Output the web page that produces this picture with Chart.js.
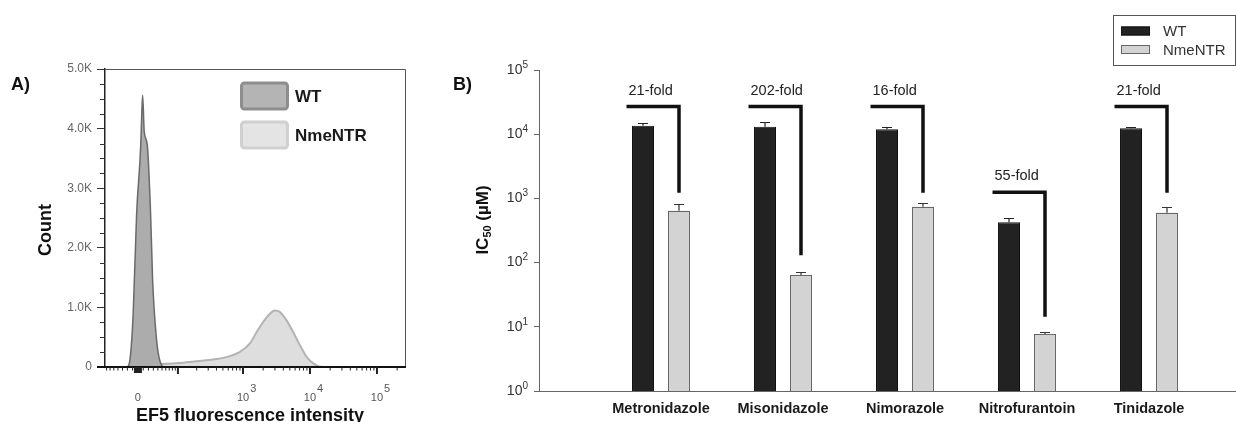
<!DOCTYPE html>
<html>
<head>
<meta charset="utf-8">
<script src="https://cdn.jsdelivr.net/npm/chart.js@4.4.0/dist/chart.umd.min.js"></script>
<style>
  html, body { margin: 0; padding: 0; background: #fff; }
  #wrap { position: relative; width: 1236px; height: 422px; overflow: hidden; }
  #histo { position: absolute; left: 0; top: 0; }
  #ic50 { position: absolute; left: 420px; top: 0; }
</style>
</head>
<body>
<div id="wrap">
  <canvas id="histo" width="420" height="422" style="width:420px;height:422px"></canvas>
  <canvas id="ic50" width="816" height="422" style="width:816px;height:422px"></canvas>
</div>
<script>
// ---- Panel A: EF5 histogram (fluorescence intensity vs count) ----
const wtIntensity = [-31, -21, -15, -8.8, -2.4, 5.0, 7.4, 8.8, 11.8, 17.6, 24.3, 28.5, 37.1, 44.8, 57.7, 70];
const wtCount     = [0, 0, 120, 900, 2570, 3670, 4300, 4560, 3950, 3730, 2570, 1450, 450, 100, 0, 0];
const ntrIntensity = [-5, 4, 23, 49, 122, 224, 402, 636, 899, 1270, 1600, 2000, 2520, 3000, 3550, 4470, 5600, 7070, 8900, 11200, 15700, 30000];
const ntrCount     = [0, 30, 45, 50, 72, 100, 133, 183, 255, 395, 588, 755, 895, 950, 922, 783, 588, 367, 172, 62, 0, 0];
const histoTickLabels = [0, 1e3, 1e4, 1e5];

// ---- Panel B: IC50 per drug (µM) ----
const drugs   = ['Metronidazole', 'Misonidazole', 'Nimorazole', 'Nitrofurantoin', 'Tinidazole'];
const wtIC50  = [13600, 13100, 11900, 424, 12400];
const wtErr   = [1200, 2600, 1200, 77, 500];
const ntrIC50 = [643, 64, 743, 7.7, 599];
const ntrErr  = [167, 8, 96, 0.5, 144];
const foldText    = ['21-fold', '202-fold', '16-fold', '55-fold', '21-fold'];
const bracketTop  = [27000, 27000, 27000, 1250, 27000];
const bracketEnd  = [1230, 130, 1230, 14.4, 1230];
const decadeTicks = [1, 10, 100, 1000, 10000, 100000];

const FONT = '"Liberation Sans", Arial, Helvetica, sans-serif';
Chart.defaults.font.family = FONT;

// biexponential-like display axis (asinh) for the flow histogram
const BIEX_W = 54;
class BiexScale extends Chart.LinearScale {
  static id = 'biex';
  static defaults = Chart.LinearScale.defaults;
  _t(v) { return Math.asinh(v / BIEX_W); }
  determineDataLimits() { this.min = this.options.min; this.max = this.options.max; }
  buildTicks() { return histoTickLabels.map(v => ({ value: v })); }
  configure() {
    super.configure();
    this._tMin = this._t(this.min);
    this._tMax = this._t(this.max);
  }
  getPixelForValue(v) {
    return this.getPixelForDecimal((this._t(v) - this._tMin) / (this._tMax - this._tMin));
  }
  getValueForPixel(p) {
    const d = this.getDecimalForPixel(p);
    return BIEX_W * Math.sinh(this._tMin + d * (this._tMax - this._tMin));
  }
}
Chart.register(BiexScale);

function drawPow(ctx, exp, x, y, size, supSize, supRise, align) {
  ctx.font = `${size}px ${FONT}`;
  const wb = ctx.measureText('10').width;
  ctx.font = `${supSize}px ${FONT}`;
  const we = ctx.measureText(String(exp)).width;
  let x0;
  if (align === 'center') x0 = x - wb / 2;
  else x0 = x - wb - we;
  ctx.textAlign = 'left';
  ctx.textBaseline = 'middle';
  ctx.font = `${size}px ${FONT}`;
  ctx.fillText('10', x0, y);
  ctx.font = `${supSize}px ${FONT}`;
  ctx.fillText(String(exp), x0 + wb + (align === 'center' ? 1 : 0), y - supRise);
}

const histoLegend = [
  { fill: '#b4b4b4', stroke: '#8e8e8e' },
  { fill: '#e4e4e4', stroke: '#d0d0d0' }
];

const histoDecor = {
  id: 'histoDecor',
  afterDraw(chart) {
    const { ctx, chartArea: a, scales: { x, y } } = chart;
    ctx.save();
    // thin frame on top and right
    ctx.strokeStyle = '#555';
    ctx.lineWidth = 1;
    ctx.beginPath();
    ctx.moveTo(a.left, a.top + 0.5);
    ctx.lineTo(a.right + 0.5, a.top + 0.5);
    ctx.lineTo(a.right + 0.5, a.bottom);
    ctx.stroke();
    // bottom spine
    ctx.strokeStyle = '#111';
    ctx.lineWidth = 2;
    ctx.beginPath();
    ctx.moveTo(a.left - 8, a.bottom);
    ctx.lineTo(a.right + 1, a.bottom);
    ctx.stroke();
    // minor y ticks
    ctx.strokeStyle = '#333';
    ctx.lineWidth = 1;
    for (let v = 250; v < 5000; v += 250) {
      if (v % 1000 === 0) continue;
      const py = Math.round(y.getPixelForValue(v)) + 0.5;
      ctx.beginPath(); ctx.moveTo(a.left - 5, py); ctx.lineTo(a.left, py); ctx.stroke();
    }
    // x ticks (linear near zero, log above)
    const tick = (v, len, w) => {
      const px = x.getPixelForValue(v);
      if (px < a.left || px > a.right) return;
      ctx.lineWidth = w;
      ctx.beginPath(); ctx.moveTo(px, a.bottom); ctx.lineTo(px, a.bottom + len); ctx.stroke();
    };
    ctx.strokeStyle = '#222';
    for (let k = -6; k <= 6; k++) tick(k, 6, 1.5);
    for (let k = 1; k <= 9; k++) { tick(k * 10, 3.5, 1); tick(-k * 10, 3.5, 1); }
    for (let e = 2; e <= 5; e++) {
      tick(Math.pow(10, e), 7, 2);
      for (let m = 2; m <= 9; m++) tick(m * Math.pow(10, e), 3.5, 1);
    }
    // x tick labels
    ctx.fillStyle = '#555';
    histoTickLabels.forEach(v => {
      const px = x.getPixelForValue(v);
      if (v === 0) {
        ctx.font = `11px ${FONT}`;
        ctx.textAlign = 'center';
        ctx.textBaseline = 'middle';
        ctx.fillText('0', px, 398);
      } else {
        drawPow(ctx, Math.round(Math.log10(v)), px, 398, 11, 11, 9, 'center');
      }
    });
    // axis titles
    ctx.fillStyle = '#111';
    ctx.font = `bold 18px ${FONT}`;
    ctx.textAlign = 'center';
    ctx.textBaseline = 'alphabetic';
    ctx.fillText('EF5 fluorescence intensity', 250, 421);
    ctx.save();
    ctx.translate(46, 230);
    ctx.rotate(-Math.PI / 2);
    ctx.textBaseline = 'middle';
    ctx.fillText('Count', 0, 0);
    ctx.restore();
    ctx.textAlign = 'left';
    ctx.fillText('A)', 11, 90);
    // legend
    chart.data.datasets.forEach((ds, i) => {
      const st = histoLegend[i];
      const top = 83 + i * 39;
      ctx.fillStyle = st.fill;
      ctx.strokeStyle = st.stroke;
      ctx.lineWidth = 3;
      ctx.beginPath();
      ctx.roundRect(241.5, top, 46, 26, 3);
      ctx.fill();
      ctx.stroke();
      ctx.fillStyle = '#1a1a1a';
      ctx.font = `bold 17px ${FONT}`;
      ctx.textBaseline = 'middle';
      ctx.fillText(ds.label, 295, top + 14);
    });
    ctx.restore();
  }
};

new Chart(document.getElementById('histo'), {
  type: 'line',
  data: {
    datasets: [
      {
        label: 'WT',
        data: wtIntensity.map((v, i) => ({ x: v, y: wtCount[i] })),
        borderColor: '#6a6a6a',
        backgroundColor: '#acacac',
        borderWidth: 1.5,
        fill: 'origin',
        pointRadius: 0,
        cubicInterpolationMode: 'monotone'
      },
      {
        label: 'NmeNTR',
        data: ntrIntensity.map((v, i) => ({ x: v, y: ntrCount[i] })),
        borderColor: '#b3b3b3',
        backgroundColor: '#dedede',
        borderWidth: 2,
        fill: 'origin',
        pointRadius: 0,
        cubicInterpolationMode: 'monotone'
      }
    ]
  },
  options: {
    responsive: false,
    animation: false,
    events: [],
    layout: { padding: { top: 69, right: 15, left: 0, bottom: 0 } },
    plugins: { legend: { display: false }, tooltip: { enabled: false } },
    scales: {
      x: {
        type: 'biex',
        min: -75,
        max: 262144,
        ticks: { display: false },
        grid: { display: false },
        border: { display: false },
        afterFit: s => { s.height = 55; }
      },
      y: {
        min: 0,
        max: 5000,
        ticks: {
          stepSize: 1000,
          color: '#666',
          font: { size: 12 },
          padding: 5,
          callback: v => (v === 0 ? '0' : (v / 1000).toFixed(1) + 'K')
        },
        grid: { drawOnChartArea: false, tickLength: 8, color: '#333', lineWidth: 1 },
        border: { display: true, color: '#222', width: 1.5 },
        afterFit: s => { s.width = 105; }
      }
    }
  },
  plugins: [histoDecor]
});

// ---- Panel B ----
const ic50Decor = {
  id: 'ic50Decor',
  afterDatasetsDraw(chart) {
    const { ctx, scales: { y } } = chart;
    const wtBars = chart.getDatasetMeta(0).data;
    const ntrBars = chart.getDatasetMeta(1).data;
    ctx.save();
    // error bars (upper whisker only)
    const whisker = (bar, top, color) => {
      const py = Math.round(y.getPixelForValue(top)) + 0.5;
      ctx.strokeStyle = color;
      ctx.lineWidth = 1.2;
      ctx.beginPath();
      ctx.moveTo(bar.x, bar.y);
      ctx.lineTo(bar.x, py);
      ctx.moveTo(bar.x - 5, py);
      ctx.lineTo(bar.x + 5, py);
      ctx.stroke();
    };
    drugs.forEach((d, i) => {
      whisker(wtBars[i], wtIC50[i] + wtErr[i], '#222');
      whisker(ntrBars[i], ntrIC50[i] + ntrErr[i], '#333');
    });
    // fold-change brackets
    drugs.forEach((d, i) => {
      const wb = wtBars[i], nb = ntrBars[i];
      const x0 = wb.x - wb.width / 2 - 5.5;
      const yTop = y.getPixelForValue(bracketTop[i]);
      const yEnd = y.getPixelForValue(bracketEnd[i]);
      ctx.strokeStyle = '#111';
      ctx.lineWidth = 3.5;
      ctx.lineJoin = 'miter';
      ctx.lineCap = 'butt';
      ctx.beginPath();
      ctx.moveTo(x0, yTop);
      ctx.lineTo(nb.x, yTop);
      ctx.lineTo(nb.x, yEnd);
      ctx.stroke();
      ctx.fillStyle = '#222';
      ctx.font = `14.5px ${FONT}`;
      ctx.textAlign = 'left';
      ctx.textBaseline = 'middle';
      ctx.fillText(foldText[i], x0 + 2, yTop - 16);
    });
    ctx.restore();
  },
  afterDraw(chart) {
    const { ctx, chartArea: a, scales: { y } } = chart;
    ctx.save();
    // y tick labels 10^n
    ctx.fillStyle = '#333';
    decadeTicks.forEach(v => {
      drawPow(ctx, Math.round(Math.log10(v)), a.left - 11, y.getPixelForValue(v), 14, 10, 5, 'right');
    });
    // y title IC50 (µM)
    ctx.save();
    ctx.translate(62, 220);
    ctx.rotate(-Math.PI / 2);
    ctx.fillStyle = '#111';
    const big = `bold 17px ${FONT}`, small = `bold 11px ${FONT}`;
    ctx.font = big; const w1 = ctx.measureText('IC').width;
    ctx.font = small; const w2 = ctx.measureText('50').width;
    ctx.font = big; const w3 = ctx.measureText(' (µM)').width;
    let cx = -(w1 + w2 + w3) / 2;
    ctx.textAlign = 'left';
    ctx.textBaseline = 'alphabetic';
    ctx.font = big; ctx.fillText('IC', cx, 6); cx += w1;
    ctx.font = small; ctx.fillText('50', cx, 9); cx += w2;
    ctx.font = big; ctx.fillText(' (µM)', cx, 6);
    ctx.restore();
    // panel label
    ctx.fillStyle = '#111';
    ctx.font = `bold 18px ${FONT}`;
    ctx.textAlign = 'left';
    ctx.textBaseline = 'alphabetic';
    ctx.fillText('B)', 33, 90);
    // legend box
    ctx.strokeStyle = '#555';
    ctx.lineWidth = 1;
    ctx.strokeRect(693.5, 15.5, 122, 50);
    chart.data.datasets.forEach((ds, i) => {
      const cy = 31 + i * 18.5;
      ctx.fillStyle = ds.backgroundColor;
      ctx.fillRect(701, cy - 4.5, 29, 9);
      ctx.strokeStyle = ds.borderColor;
      ctx.strokeRect(701.5, cy - 4, 28, 8);
      ctx.fillStyle = '#333';
      ctx.font = `15px ${FONT}`;
      ctx.textBaseline = 'middle';
      ctx.fillText(ds.label, 743, cy + 1);
    });
    ctx.restore();
  }
};

new Chart(document.getElementById('ic50'), {
  type: 'bar',
  data: {
    datasets: [
      {
        label: 'WT',
        data: drugs.map((d, i) => ({ x: i + 1, y: wtIC50[i] })),
        backgroundColor: '#222222',
        borderColor: '#111111',
        borderWidth: 1,
        categoryPercentage: 0.59,
        barPercentage: 0.611
      },
      {
        label: 'NmeNTR',
        data: drugs.map((d, i) => ({ x: i + 1, y: ntrIC50[i] })),
        backgroundColor: '#d3d3d3',
        borderColor: '#666666',
        borderWidth: 1.2,
        categoryPercentage: 0.59,
        barPercentage: 0.611
      }
    ]
  },
  options: {
    responsive: false,
    animation: false,
    events: [],
    layout: { padding: { top: 70, right: 0, left: 0, bottom: 0 } },
    plugins: { legend: { display: false }, tooltip: { enabled: false } },
    scales: {
      x: {
        type: 'linear',
        min: 0,
        max: 5.713,
        offset: false,
        afterBuildTicks: s => { s.ticks = drugs.map((d, i) => ({ value: i + 1 })); },
        ticks: {
          autoSkip: false,
          maxRotation: 0,
          color: '#1a1a1a',
          font: { size: 14.5, weight: 'bold' },
          padding: 9,
          callback: v => drugs[v - 1] || ''
        },
        grid: { display: false, drawTicks: false, offset: false },
        border: { display: true, color: '#666', width: 1 },
        afterFit: s => { s.height = 31; }
      },
      y: {
        type: 'logarithmic',
        min: 1,
        max: 100000,
        afterBuildTicks: s => { s.ticks = decadeTicks.map(v => ({ value: v })); },
        ticks: { display: false },
        grid: { drawOnChartArea: false, tickLength: 5, color: '#666', lineWidth: 1 },
        border: { display: true, color: '#666', width: 1 },
        afterFit: s => { s.width = 119; }
      }
    }
  },
  plugins: [ic50Decor]
});
</script>
</body>
</html>
